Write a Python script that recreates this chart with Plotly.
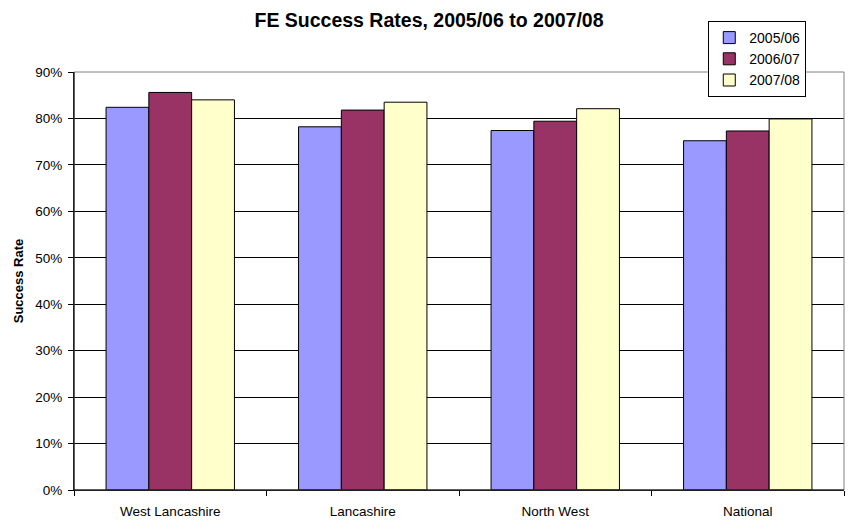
import plotly.graph_objects as go

categories = ["West Lancashire", "Lancashire", "North West", "National"]
series_names = ["2005/06", "2006/07", "2007/08"]
v_2005_06 = [0.824, 0.782, 0.774, 0.752]
v_2006_07 = [0.856, 0.818, 0.794, 0.773]
v_2007_08 = [0.840, 0.835, 0.821, 0.799]
colors = ["#9999FF", "#993366", "#FFFFCC"]

fig = go.Figure()
for name, vals, col in zip(series_names, [v_2005_06, v_2006_07, v_2007_08], colors):
    fig.add_trace(go.Bar(x=categories, y=vals, name=name,
                         marker=dict(color=col, line=dict(color="#000000", width=1))))

fig.update_layout(
    width=868, height=521,
    margin=dict(l=74, r=24, t=72, b=31, autoexpand=False),
    paper_bgcolor="white", plot_bgcolor="white",
    font=dict(family="Liberation Sans, Arial, sans-serif", size=13.5, color="#000000"),
    title=dict(text="<b>FE Success Rates, 2005/06 to 2007/08</b>", x=429/868, xanchor="center",
               y=1 - 20/521, yanchor="middle", font=dict(size=19.5)),
    barmode="group", bargap=0.333, bargroupgap=0,
    showlegend=True,
    legend=dict(x=0.951, y=1.122, xanchor="right", yanchor="top",
                bordercolor="#000000", borderwidth=1, bgcolor="white",
                font=dict(size=14), traceorder="normal",
                itemwidth=30, tracegroupgap=0),
    xaxis=dict(showline=True, linecolor="#000000", linewidth=1,
               ticks="outside", tickson="boundaries", ticklen=5, tickcolor="#000000",
               ticklabelstandoff=9,
               showgrid=False, automargin=False),
    yaxis=dict(range=[0, 0.9], dtick=0.1, tickformat=".0%",
               showline=True, linecolor="#000000", linewidth=1,
               ticks="outside", ticklen=5, tickcolor="#000000",
               ticklabelstandoff=3,
               showgrid=True, gridcolor="#000000", gridwidth=1,
               zeroline=False, automargin=False,
               title=dict(text="<b>Success Rate</b>", font=dict(size=13), standoff=8)),
)
fig.add_shape(type="rect", xref="paper", yref="paper", x0=0, x1=1, y0=0, y1=1,
              line=dict(color="#808080", width=1), layer="above")
fig.add_shape(type="line", xref="paper", yref="paper", x0=0, x1=0, y0=0, y1=1,
              line=dict(color="#000000", width=1), layer="above")
fig.add_shape(type="line", xref="paper", yref="paper", x0=0, x1=1, y0=0, y1=0,
              line=dict(color="#000000", width=1), layer="above")

fig.write_html("out.html", config={"displayModeBar": False},
               post_script="document.body.style.margin='0px';")
